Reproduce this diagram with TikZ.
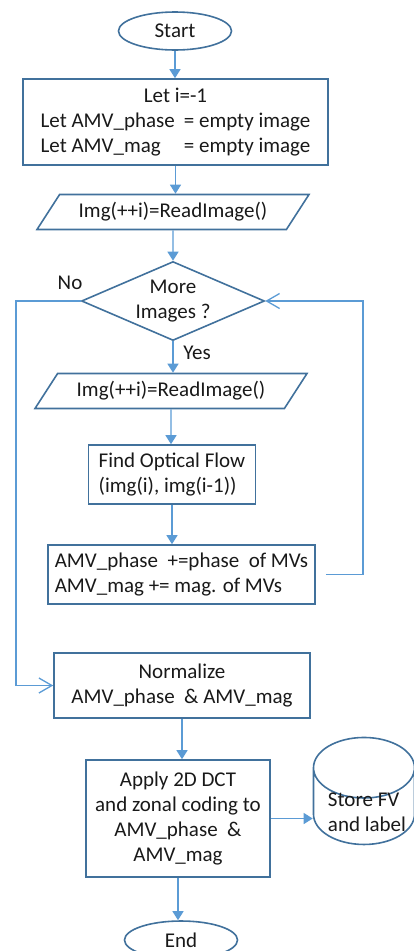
\documentclass[tikz,border=0pt]{standalone}
\usepackage{fontspec}
\setmainfont{Carlito}
\usetikzlibrary{shapes.geometric,arrows.meta}
\definecolor{boxline}{RGB}{65,113,156}
\definecolor{flowline}{RGB}{91,155,213}
\begin{document}
\begin{tikzpicture}[x=1pt,y=-1pt,
  every node/.style={font=\fontsize{21}{25}\selectfont, text=black!90},
  term/.style={ellipse, draw=boxline, line width=1.6pt, minimum width=113, minimum height=38, inner sep=0pt},
  proc/.style={rectangle, draw=boxline, line width=1.6pt, inner sep=0pt, align=center},
  io/.style={trapezium, trapezium left angle=40, trapezium right angle=140, trapezium stretches body,
    draw=boxline, line width=1.6pt, minimum height=35, inner sep=0pt},
  decide/.style={diamond, draw=boxline, line width=1.6pt, aspect=2.3, inner sep=0pt, align=center,
    minimum width=183, minimum height=79},
  flow/.style={draw=flowline, line width=1.3pt, -{Triangle[length=9pt,width=11pt]}},
  back/.style={draw=flowline, line width=1.3pt, -{Straight Barb[length=13pt,width=15pt]}}]
\useasboundingbox (0,0) rectangle (414,951);
\node[term] (start) at (175,31) {Start};
\node[proc, minimum width=305, minimum height=86] (init) at (175.5,122)
  {\begin{tabular}{@{}l@{\hspace{9pt}}l@{}}\multicolumn{2}{c}{Let i=-1}\\Let AMV\_phase & = empty image\\ Let AMV\_mag & = empty image\end{tabular}};
\node[io, minimum width=272] (read1) at (173,212) {Img(++i)=ReadImage()};
\node[decide] (more) at (173,301) {More\\Images~?};
\node[io, minimum width=272] (read2) at (171,391) {Img(++i)=ReadImage()};
\node[proc, minimum width=167, minimum height=59, align=left] (flowc) at (172,474.5)
  {Find Optical Flow\\(img(i), img(i-1))};
\node[proc, minimum width=267, minimum height=59, align=left] (accum) at (181.5,574.5)
  {AMV\_phase~ +=phase~ of MVs\\AMV\_mag += mag. of MVs};
\node[proc, minimum width=256, minimum height=65] (norm) at (182,685.5)
  {Normalize\\AMV\_phase~ \& AMV\_mag};
\node[proc, minimum width=184, minimum height=117] (dct) at (178,818.5)
  {Apply 2D DCT\\and zonal coding to\\AMV\_phase~ \&\\AMV\_mag};
\node[cylinder, shape border rotate=90, draw=boxline, line width=1.6pt, aspect=0.72,
  minimum width=101, minimum height=107, inner sep=0pt] (store) at (364,806.5)
  {\hspace{6pt}\raisebox{-13pt}[0pt][0pt]{\begin{tabular}{@{}l@{}}Store FV\\and label\end{tabular}}};
\node[term] (end) at (181,940) {End};
\node (nolbl) at (70,283) {No};
\node (yeslbl) at (197,353) {Yes};
\coordinate (noleft) at (16,685.5);
\coordinate (loopright) at (363,301);
\draw[flow] (start) -- (start |- init.north);
\draw[flow] (init) -- (init |- read1.north);
\draw[flow] (read1) -- (read1 |- more.north);
\draw[flow] (more) -- (more |- read2.north);
\draw[flow] (read2) -- (read2 |- flowc.north);
\draw[flow] (flowc) -- (flowc |- accum.north);
\draw[flow] (norm) -- (norm |- dct.north);
\draw[flow] (dct) -- (dct |- end.north);
\draw[flow] (dct.east) -- (dct.east -| store.west);
\draw[back] (more.west) -| (noleft) -- (norm.west);
\draw[back, shorten <=10pt] (accum.east) -| (loopright) -- (more.east);
\end{tikzpicture}
\end{document}
